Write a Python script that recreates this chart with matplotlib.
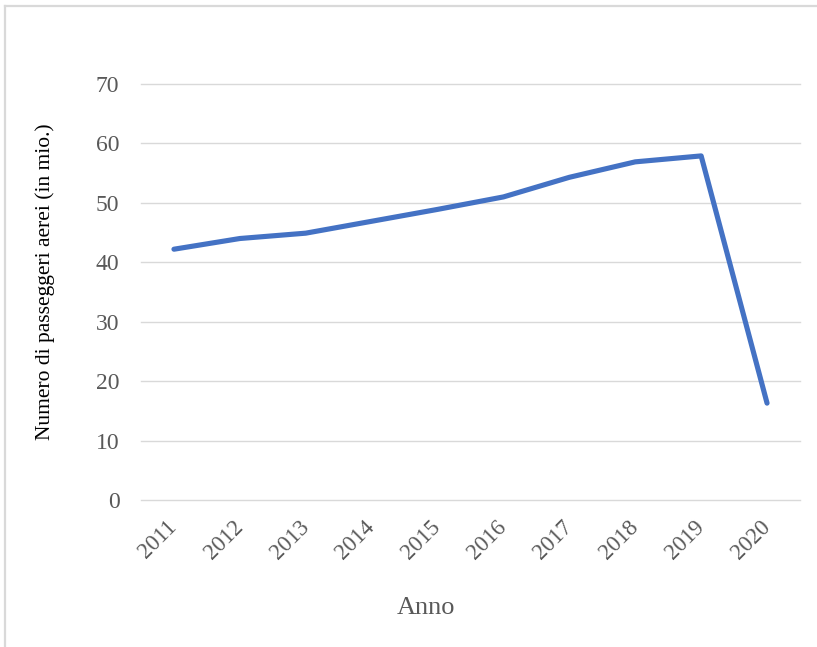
import matplotlib
matplotlib.use("Agg")
import matplotlib.pyplot as plt
from matplotlib.lines import Line2D

# Passeggeri aerei per anno (milioni)
anni = ["2011", "2012", "2013", "2014", "2015", "2016", "2017", "2018", "2019", "2020"]
passeggeri = [42.2, 44.0, 44.9, 46.9, 48.9, 51.0, 54.3, 56.9, 57.9, 16.3]
y_ticks = [0, 10, 20, 30, 40, 50, 60, 70]

plt.rcParams["font.family"] = ["Liberation Serif", "DejaVu Serif"]

W, H = 817, 647
fig = plt.figure(figsize=(W / 100, H / 100), dpi=100)
fig.patch.set_facecolor("white")

# chart area frame (top and left edges)
fig.add_artist(Line2D([4.5 / W, 1.0], [1 - 5.5 / H, 1 - 5.5 / H],
                      transform=fig.transFigure, color="#D9D9D9", lw=1.6))
fig.add_artist(Line2D([4.5 / W, 4.5 / W], [0.0, 1 - 5.5 / H],
                      transform=fig.transFigure, color="#D9D9D9", lw=1.6))

left, right, top, bottom = 141 / W, 800 / W, 1 - 84 / H, 1 - 500 / H
ax = fig.add_axes([left, bottom, right - left, top - bottom])

x = list(range(len(anni)))
ax.plot(x, passeggeri, color="#4472C4", lw=3.7, solid_joinstyle="round",
        solid_capstyle="round", zorder=3, clip_on=False)

ax.set_xlim(-0.5, len(anni) - 0.5)
ax.set_ylim(0, 70)
ax.set_yticks(y_ticks)
for v in y_ticks:
    ax.axhline(v, color="#D9D9D9", lw=1.0, zorder=1, clip_on=False)

for s in ax.spines.values():
    s.set_visible(False)
ax.tick_params(axis="both", length=0, colors="#595959")
ax.tick_params(axis="y", pad=15.5, labelsize=17)
ax.tick_params(axis="x", pad=17, labelsize=16.5)

ax.set_xticks(x)
ax.set_xticklabels(anni, rotation=45, ha="right", va="center",
                   rotation_mode="anchor")

fig.text(45 / W, 1 - 282 / H, "Numero di passeggeri aerei (in mio.)",
         rotation=90, ha="center", va="center", fontsize=15.5, color="black")
fig.text(426 / W, 1 - 608 / H, "Anno", ha="center", va="center",
         fontsize=19, color="#595959")

fig.savefig("out.png", dpi=100, facecolor="white")
